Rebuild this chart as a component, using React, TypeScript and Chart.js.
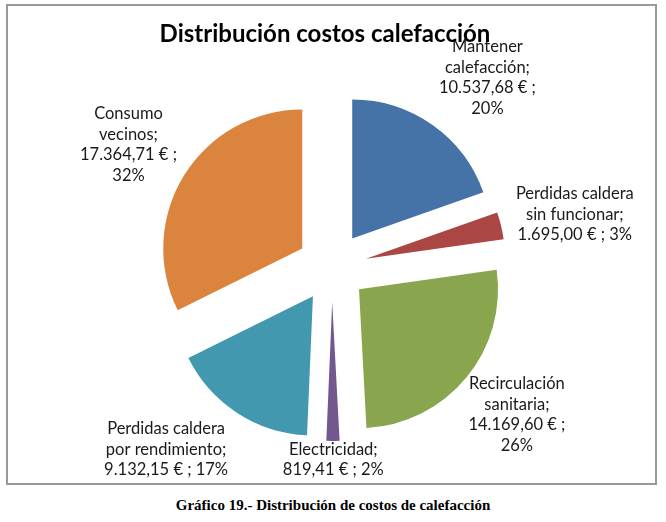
import { useEffect, useRef } from 'react';
import { Chart, PieController, ArcElement } from 'chart.js';

Chart.register(PieController, ArcElement);

const TITLE = 'Distribución costos calefacción';
const CAPTION = 'Gráfico 19.- Distribución de costos de calefacción';

const CATEGORIES = [
  'Mantener calefacción',
  'Perdidas caldera sin funcionar',
  'Recirculación sanitaria',
  'Electricidad',
  'Perdidas caldera por rendimiento',
  'Consumo vecinos',
];
const COSTS = [10537.68, 1695.0, 14169.6, 819.41, 9132.15, 17364.71];
const COLORS = ['#4572A7', '#AA4643', '#89A54E', '#71588F', '#4198AF', '#DB843D'];

const RADIUS = 139;
const EXPLODE = 35;
const LABEL_GAP = 17;
const LABEL_FONT = '16.5px Lato';
const LINE_H = 20.5;
const WRAP_WIDTH = 127;
// Excel pushed two labels sideways to keep them clear of their neighbours
const LABEL_NUDGE_X = [17, 0, 0, 0, -28, 0];

// 10537.68 -> "10.537,68"
function euro(v: number) {
  const [int, dec] = v.toFixed(2).split('.');
  return int.replace(/\B(?=(\d{3})+(?!\d))/g, '.') + ',' + dec;
}

function wrap(ctx: CanvasRenderingContext2D, text: string, max: number) {
  const words = text.split(' ');
  const lines: string[] = [];
  let cur = '';
  words.forEach(w => {
    const next = cur ? cur + ' ' + w : w;
    if (cur && ctx.measureText(next).width > max) {
      lines.push(cur);
      cur = w;
    } else {
      cur = next;
    }
  });
  if (cur) lines.push(cur);
  return lines;
}

// pull every slice out along its mid angle
const explodePlugin = {
  id: 'explode',
  afterDatasetUpdate(chart: any) {
    chart.getDatasetMeta(0).data.forEach((arc: any) => {
      const mid = (arc.startAngle + arc.endAngle) / 2;
      arc.x += Math.cos(mid) * EXPLODE;
      arc.y += Math.sin(mid) * EXPLODE;
    });
  },
};

const labelPlugin = {
  id: 'excelLabels',
  afterDraw(chart: any) {
    const { ctx } = chart;
    const total = COSTS.reduce((s, v) => s + v, 0);
    ctx.save();
    ctx.font = LABEL_FONT;
    ctx.fillStyle = '#1a1a1a';
    ctx.textAlign = 'center';
    ctx.textBaseline = 'middle';
    chart.getDatasetMeta(0).data.forEach((arc: any, i: number) => {
      const pct = Math.round((COSTS[i] / total) * 100);
      const text = `${CATEGORIES[i]}; ${euro(COSTS[i])} € ; ${pct}%`;
      const lines = wrap(ctx, text, WRAP_WIDTH);
      const w = Math.max(...lines.map(l => ctx.measureText(l).width));
      const h = lines.length * LINE_H;
      const mid = (arc.startAngle + arc.endAngle) / 2;
      const dx = Math.cos(mid);
      const dy = Math.sin(mid);
      const r = arc.outerRadius + LABEL_GAP;
      const cx = arc.x + dx * r + (dx * w) / 2 + LABEL_NUDGE_X[i];
      let cy = arc.y + dy * r + (dy * h) / 2;
      cy = Math.min(cy, chart.height - 3 - h / 2);
      lines.forEach((l, k) => ctx.fillText(l, cx, cy - h / 2 + LINE_H * (k + 0.5)));
    });

    ctx.font = 'bold 24px Lato';
    ctx.fillStyle = '#000';
    ctx.textBaseline = 'alphabetic';
    ctx.fillText(TITLE, 317, 36);
    ctx.restore();
  },
};

export default function App() {
  const canvasRef = useRef<HTMLCanvasElement>(null);

  useEffect(() => {
    if (!canvasRef.current) return;
    const chart = new Chart(canvasRef.current, {
      type: 'pie',
      data: {
        labels: CATEGORIES,
        datasets: [{
          data: COSTS,
          backgroundColor: COLORS,
          borderWidth: 0,
        }],
      },
      options: {
        responsive: true,
        maintainAspectRatio: false,
        animation: false,
        radius: RADIUS,
        layout: { padding: { top: 45, left: 1, right: 0, bottom: 0 } },
        plugins: {
          legend: { display: false },
          tooltip: { enabled: false },
        },
      } as any,
      plugins: [explodePlugin, labelPlugin],
    });
    return () => chart.destroy();
  }, []);

  return (
    <div style={{ position: 'absolute', left: 0, top: 0, width: 666, height: 522, background: '#fff' }}>
      <div
        style={{
          position: 'absolute',
          left: 6,
          top: 4,
          width: 647,
          height: 477,
          border: '2px solid #999',
        }}
      >
        <canvas ref={canvasRef} />
      </div>
      <div
        style={{
          position: 'absolute',
          left: 0,
          top: 497,
          width: 666,
          textAlign: 'center',
          fontFamily: '"Liberation Serif", serif',
          fontWeight: 'bold',
          fontSize: 15,
          color: '#000',
        }}
      >
        {CAPTION}
      </div>
    </div>
  );
}
